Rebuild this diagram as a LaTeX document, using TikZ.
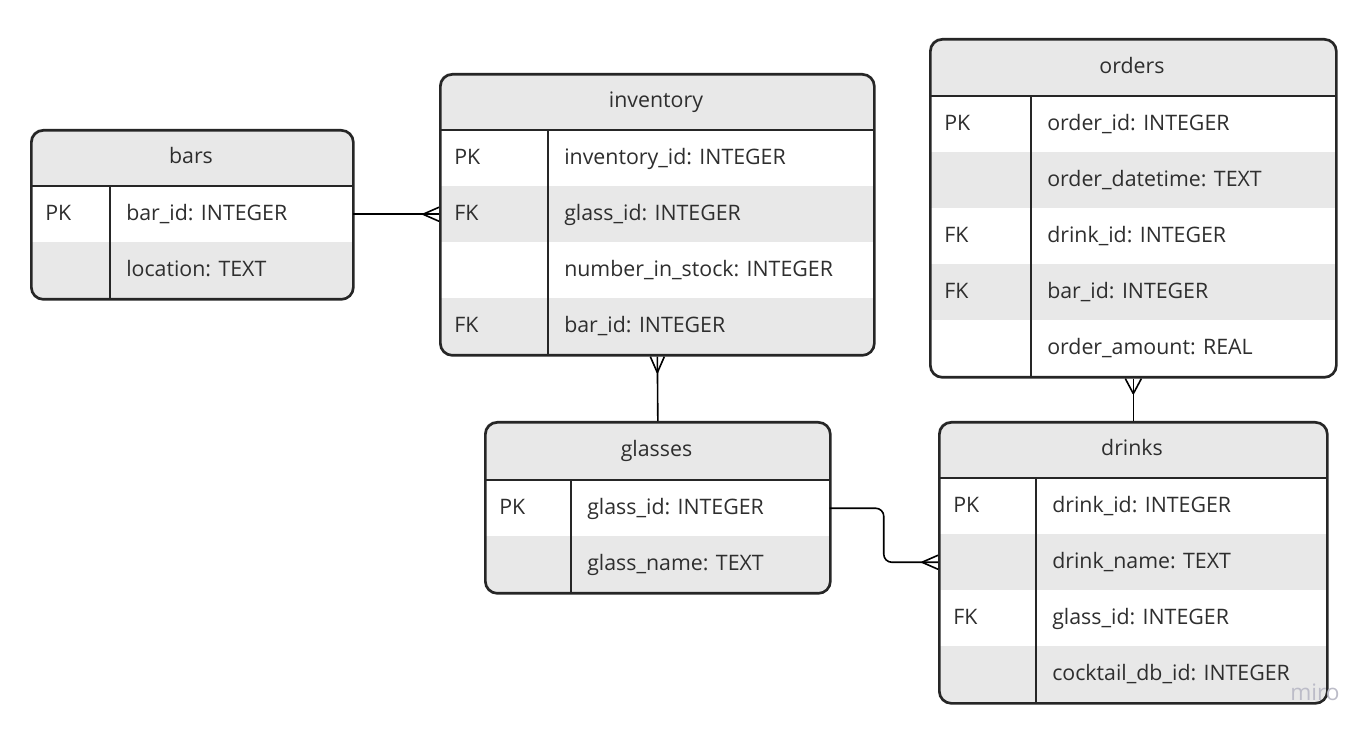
\documentclass[tikz,border=0pt]{standalone}
\usepackage{fontspec}
\setmainfont{Open Sans}
\usetikzlibrary{calc}
\definecolor{rowgrey}{HTML}{E8E8E8}
\definecolor{ink}{HTML}{262626}
\definecolor{txt}{HTML}{2E2E2E}
\definecolor{wmgrey}{HTML}{BCBCC8}
\tikzset{
  x=0.75pt, y=-0.75pt,
  tbl/.style={draw=ink, line width=2pt, rounded corners=9pt, inner sep=0pt, anchor=north west},
  sep/.style={draw=ink, line width=2pt},
  rowbox/.style={inner sep=0pt, anchor=north west, minimum height=42pt},
  cell/.style={anchor=west, inner sep=0pt, text=txt, font=\fontsize{16}{18}\selectfont, text height=1.45ex, text depth=0.35ex},
  ttl/.style={inner sep=0pt, text=txt, font=\fontsize{16}{18}\selectfont, text height=1.45ex, text depth=0.35ex},
  conn/.style={draw=black, line width=1.2pt},
}
% #1 name, #2 x, #3 y, #4 width, #5 divider offset, #6 header height, #7 number of rows, #8 title, #9 rows
\newcommand\ertable[9]{%
  \begin{scope}
    \clip[rounded corners=9pt] (#2,#3) rectangle ++(#4,{#6+#7*56});
    \fill[white] (#2,#3) rectangle ++(#4,{#6+#7*56});
    \fill[rowgrey] (#2,#3) rectangle ++(#4,#6);
    \foreach \k/\f/\g [count=\i] in {#9} {
      \ifnum\g=1 \fill[rowgrey] (#2,{#3+#6+(\i-1)*56}) rectangle ++(#4,56);\fi
    }
  \end{scope}
  \foreach \k/\f/\g [count=\i] in {#9} {
    \node[rowbox, minimum width={#4*0.75pt}] (#1-r\i) at (#2,{#3+#6+(\i-1)*56}) {};
    \node[cell] (#1-k\i) at ({#2+15},{#3+#6+(\i-1)*56+30.5}) {\k};
    \node[cell] (#1-f\i) at ({#2+#5+16},{#3+#6+(\i-1)*56+30.5}) {\f};
  }
  \draw[sep] (#2,{#3+#6}) -- ++(#4,0);
  \draw[sep] ({#2+#5},{#3+#6}) -- ++(0,{#7*56});
  \node[tbl, minimum width={#4*0.75pt}, minimum height={(#6+#7*56)*0.75pt}] (#1) at (#2,#3) {};
  \node[ttl] (#1-t) at ({#2+#4/2},{#3+#6/2+2.5}) {#8};
}
\begin{document}
\begin{tikzpicture}
\useasboundingbox[fill=white] (0,0) rectangle (1368,730);

\ertable{bars}{30}{129}{322}{80}{57}{2}{bars}{PK/bar\_id: INTEGER/0, /location: TEXT/1}
\ertable{inv}{439}{73}{434}{109}{57}{4}{inventory}{PK/inventory\_id: INTEGER/0, FK/glass\_id: INTEGER/1, /number\_in\_stock: INTEGER/0, FK/bar\_id: INTEGER/1}
\ertable{ord}{929}{38}{406}{102}{58}{5}{orders}{PK/order\_id: INTEGER/0, /order\_datetime: TEXT/1, FK/drink\_id: INTEGER/0, FK/bar\_id: INTEGER/1, /order\_amount: REAL/0}
\ertable{gl}{484}{421}{345}{87}{59}{2}{glasses}{PK/glass\_id: INTEGER/0, /glass\_name: TEXT/1}
\ertable{dr}{938}{421}{388}{98}{57}{4}{drinks}{PK/drink\_id: INTEGER/0, /drink\_name: TEXT/1, FK/glass\_id: INTEGER/0, /cocktail\_db\_id: INTEGER/1}

% bars -> inventory
\draw[conn] (bars-r1.east) -- (inv-r2.west);
\draw[conn, shift={(inv-r2.west)}] (-16,0) -- (0,-7) (-16,0) -- (0,7);
% inventory -> glasses
\draw[conn] (inv.south) -- (gl.north);
\draw[conn, shift={(inv.south)}] (0,16) -- (-7,0) (0,16) -- (7,0);
% orders -> drinks
\draw[conn] (ord.south) -- (dr.north);
\draw[conn, shift={(ord.south)}] (0,15) -- (-8,0) (0,15) -- (8,0);
% glasses -> drinks
\draw[conn, rounded corners=6pt] (gl-r1.east) -| ($(gl-r1.east)!0.5!(dr-r2.west)$) |- (dr-r2.west);
\draw[conn, shift={(dr-r2.west)}] (-16,0) -- (0,-7) (-16,0) -- (0,7);

\node[text=wmgrey, inner sep=0pt, font=\fontsize{17}{17}\selectfont] (wm) at (1315,692) {miro};
\end{tikzpicture}
\end{document}
